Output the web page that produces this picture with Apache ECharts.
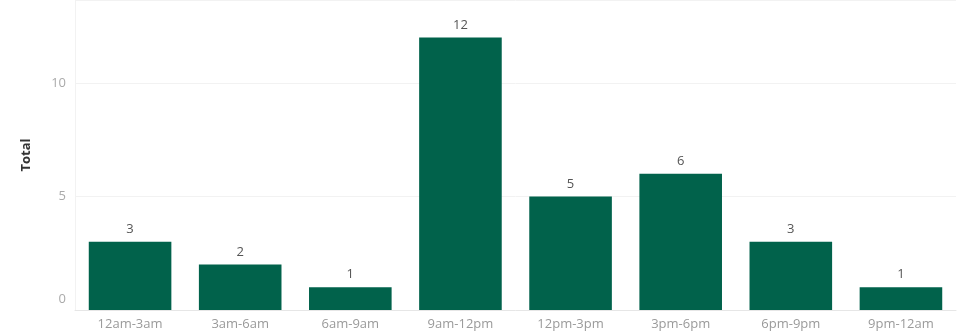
<!DOCTYPE html>
<html>
<head>
<meta charset="utf-8">
<script src="https://cdn.jsdelivr.net/npm/echarts@6/dist/echarts.min.js"></script>
<style>
  html, body { margin: 0; padding: 0; background: #fff; }
  #chart { width: 960px; height: 336px; }
</style>
</head>
<body>
<div id="chart"></div>
<script>
  // time buckets and counts
  var categories = ['12am-3am', '3am-6am', '6am-9am', '9am-12pm', '12pm-3pm', '3pm-6pm', '6pm-9pm', '9pm-12am']
  var totals = [3, 2, 1, 12, 5, 6, 3, 1]
  var yTicks = [0, 5, 10]

  var chart = echarts.init(document.getElementById('chart'))
  var option = {
    animation: false,
    grid: { left: 75, right: 4, top: 0, bottom: 26 },
    xAxis: {
      type: 'category',
      data: categories,
      axisTick: { show: false },
      axisLine: { lineStyle: { color: '#e6e6e6', width: 1 } },
      axisLabel: {
        color: '#9a9a9a',
        fontFamily: 'Open Sans',
        fontSize: 13,
        margin: 8
      }
    },
    yAxis: {
      type: 'value',
      min: 0,
      max: 13.65,
      interval: 5,
      name: 'Total',
      nameLocation: 'middle',
      nameRotate: 90,
      nameGap: 42,
      nameTextStyle: {
        color: '#333',
        fontFamily: 'Open Sans',
        fontWeight: 'bold',
        fontSize: 13
      },
      axisLine: { show: true, lineStyle: { color: '#f2f2f2' } },
      axisTick: { show: false },
      splitLine: { lineStyle: { color: '#f2f2f2' } },
      axisLabel: {
        color: '#aaaaaa',
        fontFamily: 'Open Sans',
        fontSize: 13,
        margin: 9,
        formatter: function (v) {
          if (yTicks.indexOf(v) < 0) return ''
          // the zero label sits a little above the baseline
          return v === 0 ? '{z|0}' : String(v)
        },
        rich: {
          z: { color: '#aaaaaa', fontFamily: 'Open Sans', fontSize: 13, padding: [0, 0, 22, 0] }
        }
      }
    },
    series: [{
      type: 'bar',
      data: totals,
      barCategoryGap: '25%',
      itemStyle: { color: '#01624b' },
      label: {
        show: true,
        position: 'top',
        distance: 6,
        color: '#555',
        fontFamily: 'Open Sans',
        fontSize: 13
      }
    }]
  }
  chart.setOption(option)
</script>
</body>
</html>
